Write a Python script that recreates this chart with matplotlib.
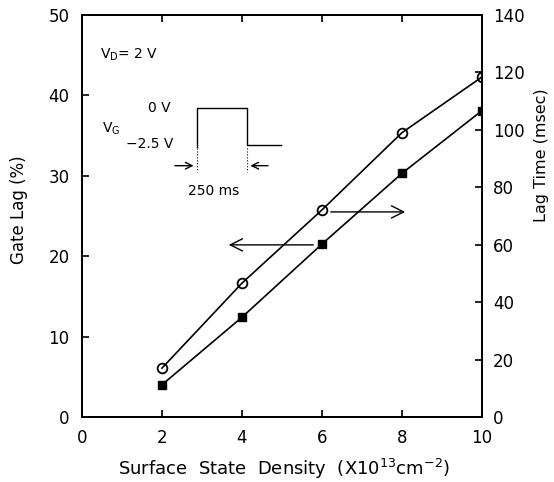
import matplotlib
matplotlib.use('Agg')
import matplotlib.pyplot as plt

plt.rcParams['font.family'] = ['DejaVu Sans']
plt.rcParams['mathtext.default'] = 'regular'

# data
density = [2, 4, 6, 8, 10]            # x10^13 cm^-2
gate_lag = [4.0, 12.4, 21.5, 30.3, 38.1]      # %, left axis (squares)
lag_time = [17.0, 46.6, 72.1, 99.0, 118.4]    # msec, right axis (circles)

x_ticks = [0, 2, 4, 6, 8, 10]
left_ticks = [0, 10, 20, 30, 40, 50]
right_ticks = [0, 20, 40, 60, 80, 100, 120, 140]

fig = plt.figure(figsize=(5.54, 4.82), dpi=100)
ax = fig.add_axes([0.148, 0.135, 0.722, 0.834])
ax2 = ax.twinx()

ax.plot(density, gate_lag, color='black', lw=1.2, marker='s', ms=6,
        mfc='black', mec='black', zorder=3)
ax2.plot(density, lag_time, color='black', lw=1.2, marker='o', ms=7,
         mfc='none', mec='black', mew=1.3, zorder=3)

ax.set_xlim(0, 10)
ax.set_ylim(0, 50)
ax2.set_ylim(0, 140)
ax.set_xticks(x_ticks)
ax.set_yticks(left_ticks)
ax2.set_yticks(right_ticks)

for a in (ax, ax2):
    for s in a.spines.values():
        s.set_linewidth(1.3)
ax.tick_params(axis='x', direction='in', top=True, length=5, width=1.2,
               labelsize=12, pad=9)
ax.tick_params(axis='y', direction='in', length=5, width=1.2,
               labelsize=12, pad=9)
ax2.tick_params(axis='y', direction='in', length=5, width=1.2,
                labelsize=12, pad=8)

ax.set_xlabel(r'Surface  State  Density  (X10$^{13}$cm$^{-2}$)', fontsize=13)
ax.set_ylabel('Gate Lag (%)', fontsize=12)
ax2.set_ylabel('Lag Time (msec)', fontsize=11.5)
ax.xaxis.set_label_coords(0.505, -0.1)
ax.yaxis.set_label_coords(-0.135, 0.515)
ax2.yaxis.set_label_coords(1.13, 0.65)

# arrows pointing to the axis each curve belongs to
arr = dict(arrowstyle='->', color='black', lw=1.0, mutation_scale=22)
ax.annotate('', xy=(3.6, 21.4), xytext=(5.85, 21.4), arrowprops=arr)
ax.annotate('', xy=(8.15, 25.5), xytext=(6.15, 25.5), arrowprops=arr)

# inset: gate pulse
pulse_x = [2.875, 2.875, 4.12, 4.12, 4.97]
pulse_y = [33.6, 38.4, 38.4, 33.8, 33.8]
ax.plot(pulse_x, pulse_y, color='black', lw=1.0)
ax.plot([2.875, 2.875], [33.4, 30.5], color='black', lw=0.8, ls=':')
ax.plot([4.12, 4.12], [33.4, 30.5], color='black', lw=0.8, ls=':')
small = dict(arrowstyle='->', color='black', lw=1.0, mutation_scale=12)
ax.annotate('', xy=(2.86, 31.25), xytext=(2.25, 31.25), arrowprops=small)
ax.annotate('', xy=(4.14, 31.25), xytext=(4.72, 31.25), arrowprops=small)

ax.text(3.3, 28.1, '250 ms', fontsize=10, ha='center', va='center')
ax.text(0.45, 45.1, r'V$_D$= 2 V', fontsize=10, ha='left', va='center')
ax.text(1.65, 38.4, '0 V', fontsize=10, ha='left', va='center')
ax.text(0.5, 35.9, r'V$_G$', fontsize=10, ha='left', va='center')
ax.text(1.1, 34.0, '\u22122.5 V', fontsize=10, ha='left', va='center')

fig.savefig('out.png', dpi=100)
